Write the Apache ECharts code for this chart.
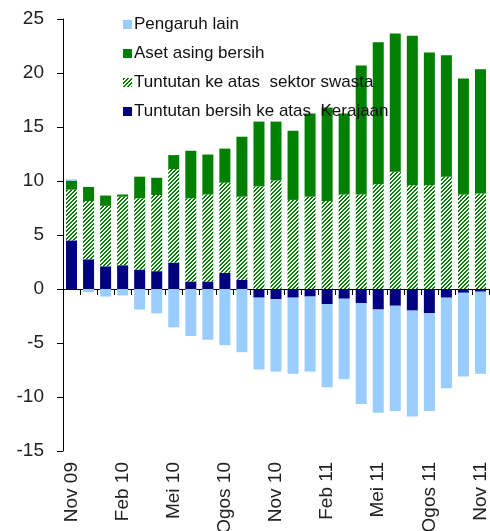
<!DOCTYPE html>
<html>
<head>
<meta charset="utf-8">
<script src="https://cdn.jsdelivr.net/npm/echarts@6/dist/echarts.min.js"></script>
<style>
  html, body { margin: 0; padding: 0; background: #fff; }
  #chart { width: 490px; height: 531px; }
</style>
</head>
<body>
<div id="chart"></div>
<script>
const categories = ['Nov 09', 'Dis 09', 'Jan 10', 'Feb 10', 'Mac 10', 'Apr 10', 'Mei 10', 'Jun 10', 'Jul 10',
  'Ogos 10', 'Sep 10', 'Okt 10', 'Nov 10', 'Dis 10', 'Jan 11', 'Feb 11', 'Mac 11', 'Apr 11', 'Mei 11',
  'Jun 11', 'Jul 11', 'Ogos 11', 'Sep 11', 'Okt 11', 'Nov 11']
// Tuntutan bersih ke atas Kerajaan
const kerajaan = [4.5, 2.75, 2.1, 2.2, 1.8, 1.65, 2.45, 0.7, 0.7, 1.5, 0.85, -0.8, -0.95, -0.8, -0.7,
  -1.4, -0.9, -1.3, -1.9, -1.55, -2.0, -2.25, -0.8, -0.35, -0.25]
// Tuntutan ke atas sektor swasta
const swasta = [4.7, 5.4, 5.6, 6.35, 6.6, 7.05, 8.65, 7.7, 8.05, 8.35, 7.7, 9.5, 10.05, 8.25, 8.55,
  8.15, 8.75, 8.75, 9.7, 10.85, 9.6, 9.6, 10.4, 8.75, 8.85]
// Aset asing bersih
const asetAsing = [0.8, 1.3, 0.95, 0.2, 2.0, 1.6, 1.3, 4.4, 3.7, 3.15, 5.55, 6.0, 5.45, 6.4, 7.7,
  8.65, 7.5, 11.95, 13.15, 12.8, 13.85, 12.3, 11.25, 10.75, 11.5]
// Pengaruh lain
const pengaruhLain = [0.15, -0.3, -0.7, -0.6, -1.9, -2.25, -3.55, -4.35, -4.7, -5.2, -5.85, -6.65, -6.7,
  -7.05, -6.95, -7.7, -7.45, -9.35, -9.55, -9.75, -9.8, -9.05, -8.4, -7.75, -7.6]

const names = ['Pengaruh lain', 'Aset asing bersih', 'Tuntutan ke atas  sektor swasta', 'Tuntutan bersih ke atas  Kerajaan']

// green / white diagonal hatch
const hatch = document.createElement('canvas')
hatch.width = 4
hatch.height = 4
const hctx = hatch.getContext('2d')
hctx.fillStyle = '#ffffff'
hctx.fillRect(0, 0, 4, 4)
hctx.fillStyle = '#008000'
for (let x = 0; x < 4; x++) {
  for (let y = 0; y < 4; y++) {
    if ((x + y) % 4 < 2) hctx.fillRect(x, y, 1, 1)
  }
}

const font = "'Liberation Sans', Arial, sans-serif"
const chart = echarts.init(document.getElementById('chart'))
const option = {
  animation: false,
  textStyle: { fontFamily: font },
  legend: {
    orient: 'vertical',
    left: 118,
    top: 11,
    itemWidth: 9,
    itemHeight: 9,
    itemGap: 12,
    icon: 'rect',
    data: names,
    textStyle: { fontSize: 17, color: '#111', fontFamily: font, lineHeight: 17, padding: [0, 0, 0, -3] }
  },
  grid: { left: 63, right: 1, top: 19, bottom: 80, outerBoundsMode: 'none', containLabel: false },
  xAxis: [
    {
      type: 'category',
      data: categories,
      axisLine: { onZero: true, lineStyle: { color: '#000', width: 1 } },
      axisTick: { show: true, interval: 0, length: 6, lineStyle: { color: '#000' } },
      axisLabel: { show: false }
    },
    {
      type: 'category',
      data: categories,
      position: 'bottom',
      axisLine: { show: false, onZero: false },
      axisTick: { show: false },
      axisLabel: { interval: 2, rotate: 90, margin: 11, fontSize: 19, color: '#222', fontFamily: font }
    }
  ],
  yAxis: {
    type: 'value',
    min: -15,
    max: 25,
    interval: 5,
    axisLine: { show: true, lineStyle: { color: '#000' } },
    axisTick: { show: true, length: 6, lineStyle: { color: '#000' } },
    splitLine: { show: false },
    axisLabel: { fontSize: 19, color: '#222', margin: 19, fontFamily: font }
  },
  series: [
    {
      name: names[3],
      type: 'bar',
      stack: 'total',
      barWidth: 11,
      itemStyle: { color: '#000080' },
      data: kerajaan
    },
    {
      name: names[2],
      type: 'bar',
      stack: 'total',
      barWidth: 11,
      itemStyle: { color: { image: hatch, repeat: 'repeat' } },
      data: swasta
    },
    {
      name: names[1],
      type: 'bar',
      stack: 'total',
      barWidth: 11,
      itemStyle: { color: '#008000' },
      data: asetAsing
    },
    {
      name: names[0],
      type: 'bar',
      stack: 'total',
      barWidth: 11,
      itemStyle: { color: '#99ccff' },
      data: pengaruhLain
    }
  ]
}
option && chart.setOption(option)
</script>
</body>
</html>
